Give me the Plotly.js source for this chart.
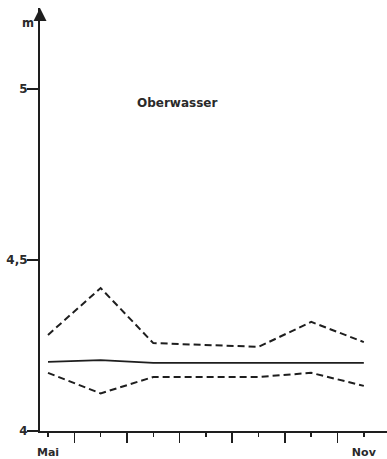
<!DOCTYPE html>
<html>
<head>
<meta charset="utf-8">
<script src="https://cdn.plot.ly/plotly-3.0.1.min.js"></script>
<style>
  html, body { margin: 0; padding: 0; background: #fff; }
  #chart { width: 387px; height: 459px; }
</style>
</head>
<body>
<div id="chart"></div>
<script>
// Month index: 0 = Mai ... 6 = Nov
const monthIndex = [0, 1, 2, 4, 5, 6];
const upperLevel = [4.281, 4.418, 4.257, 4.246, 4.319, 4.260];
const meanLevel  = [4.202, 4.207, 4.199, 4.199, 4.199, 4.199];
const lowerLevel = [4.170, 4.110, 4.158, 4.158, 4.170, 4.132];

const monthTickVals = [0, 1, 2, 3, 4, 5, 6];
const monthTickText = ["Mai", "", "", "", "", "", "Nov"];
const yTickVals = [4, 4.5, 5];
const yTickText = ["4", "4,5", "5"];

const ink = "#1e1e1e";
const font = "DejaVu Sans, Liberation Sans, Arial, sans-serif";

const dashStyle = "7px,4px";

const traces = [
  { x: monthIndex, y: upperLevel, mode: "lines", line: { color: ink, width: 2, dash: dashStyle }, hoverinfo: "skip" },
  { x: monthIndex, y: meanLevel,  mode: "lines", line: { color: ink, width: 1.8 }, hoverinfo: "skip" },
  { x: monthIndex, y: lowerLevel, mode: "lines", line: { color: ink, width: 2, dash: dashStyle }, hoverinfo: "skip" }
];

const xMin = -0.152, xMax = 6.44;
const yMin = 4, yMax = 5.2368;

const layout = {
  width: 387, height: 459,
  margin: { l: 40, r: 0, t: 8, b: 28 },
  paper_bgcolor: "#fff", plot_bgcolor: "#fff",
  showlegend: false,
  separators: ",.",
  font: { family: font, color: ink },
  xaxis: {
    range: [xMin, xMax],
    showgrid: false, zeroline: false,
    showline: true, linecolor: ink, linewidth: 2,
    tickmode: "array", tickvals: monthTickVals, ticktext: monthTickText,
    ticks: "outside", ticklen: 4, tickwidth: 1.5, tickcolor: ink,
    ticklabelstandoff: 6,
    tickfont: { family: font, size: 11, color: "#2a2a2a", weight: "bold" },
    minor: { tick0: 0.5, dtick: 1, ticks: "outside", ticklen: 10, tickwidth: 1.5, tickcolor: ink, showgrid: false }
  },
  yaxis: {
    range: [yMin, yMax],
    showgrid: false, zeroline: false,
    showline: true, linecolor: ink, linewidth: 2,
    tickmode: "array", tickvals: yTickVals, ticktext: yTickText,
    ticks: "outside", ticklen: 11, tickwidth: 1.5, tickcolor: ink,
    ticklabelstandoff: -3,
    tickfont: { family: font, size: 12, color: "#2a2a2a", weight: "bold" }
  },
  annotations: [
    { // arrow head on the y axis
      x: xMin, y: yMax, xref: "x", yref: "y",
      ax: 0, ay: 14, axref: "pixel", ayref: "pixel",
      showarrow: true, arrowhead: 2, arrowsize: 1.3, arrowwidth: 2, arrowcolor: ink, text: ""
    },
    {
      text: "m", xref: "paper", yref: "paper",
      x: -0.012, y: 0.965, xanchor: "right", yanchor: "middle",
      showarrow: false, font: { family: font, size: 11.5, color: "#2a2a2a", weight: "bold" }
    },
    {
      text: "Oberwasser", xref: "x", yref: "y",
      x: 2.45, y: 4.959, xanchor: "center", yanchor: "middle",
      showarrow: false, font: { family: font, size: 12, color: "#2a2a2a", weight: "bold" }
    }
  ]
};

Plotly.newPlot("chart", traces, layout, { staticPlot: true, displayModeBar: false });
</script>
</body>
</html>
